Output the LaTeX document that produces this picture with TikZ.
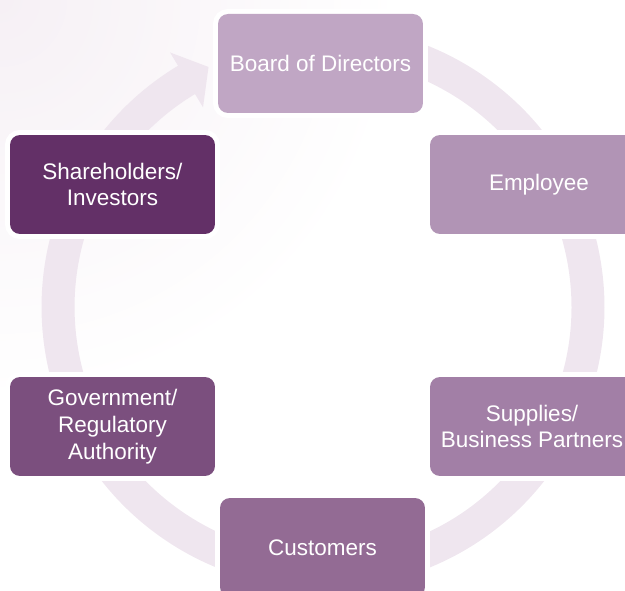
\documentclass[tikz,border=0pt]{standalone}
\usepackage{fontspec}
\setmainfont{Liberation Sans}
\definecolor{ringc}{HTML}{EFE6EF}
\definecolor{cBoard}{HTML}{C0A6C4}
\definecolor{cEmp}{HTML}{B194B5}
\definecolor{cSup}{HTML}{A27FA6}
\definecolor{cCus}{HTML}{936B94}
\definecolor{cGov}{HTML}{7B4F7E}
\definecolor{cSha}{HTML}{633067}
\definecolor{bgtint}{HTML}{F6F0F5}
\begin{document}
\begin{tikzpicture}[x=0.02cm,y=0.02cm,
  box/.style={rectangle, rounded corners=0.2cm, minimum width=4.1cm, minimum height=1.98cm,
    inner sep=0pt, text=white, align=center, font=\fontsize{12.8}{15.2}\selectfont,
    preaction={draw=white, line width=0.2cm}},
  widebox/.style={box, minimum width=4.36cm},
  ring/.style={draw=ringc, line width=0.66cm}]
\useasboundingbox (0,0) rectangle (625,591);
\clip (0,0) rectangle (625,591);
\shade[inner color=bgtint, outer color=white] (0,591) circle[radius=8cm];
\coordinate (ctr) at (323,284);
% cycle ring with arrow head
\draw[ring] ([shift={(100:5.3cm)}]ctr) arc[start angle=100, end angle=-240, radius=5.3cm];
\fill[ringc] ([shift={(121:5.94cm)}]ctr) -- ([shift={(115.5:5.32cm)}]ctr) -- ([shift={(121:4.66cm)}]ctr) -- cycle;
% boxes
\node[box, fill=cBoard] (board) at (320.5,527.5) {Board of Directors};
\node[widebox, fill=cEmp] (emp) at (539,406.5) {Employee};
\node[box, minimum width=4.08cm, fill=cSup] (sup) at (532,164.5) {Supplies/\\Business Partners};
\node[box, fill=cCus] (cus) at (322.5,43.5) {Customers};
\node[box, fill=cGov] (gov) at (112.5,164.5) {Government/\\Regulatory\\Authority};
\node[box, fill=cSha] (sha) at (112.5,406.5) {Shareholders/\\Investors};
\end{tikzpicture}
\end{document}
